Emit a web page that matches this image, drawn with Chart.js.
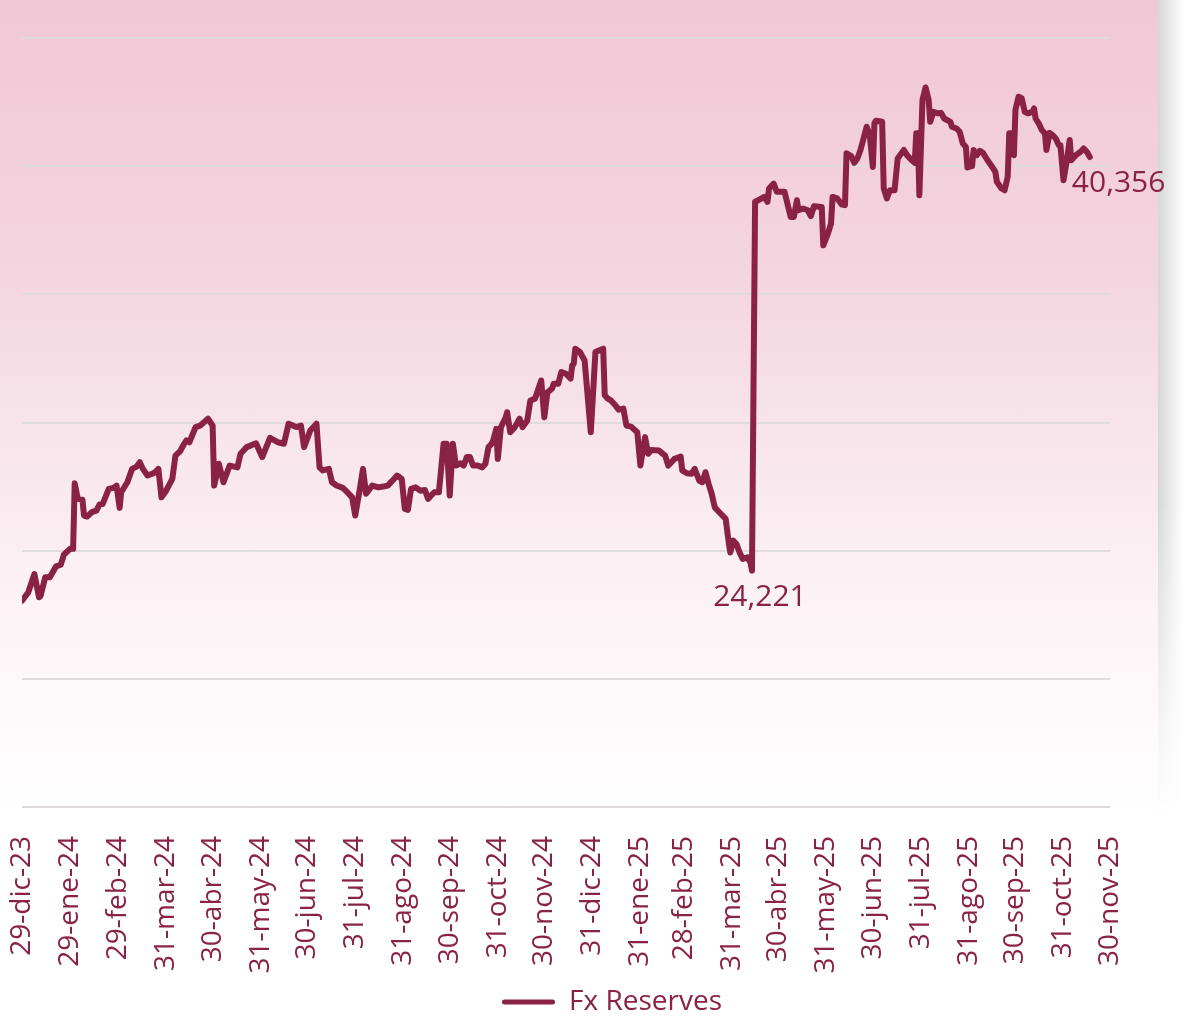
<!DOCTYPE html>
<html lang="es">
<head>
<meta charset="utf-8">
<title>Fx Reserves</title>
<script src="https://cdn.jsdelivr.net/npm/chart.js@4.4.1/dist/chart.umd.min.js"></script>
<style>
    html, body { margin: 0; padding: 0; background: #fff; }
    #fondo {
        position: absolute; left: 0; top: 0; width: 1158px; height: 820px;
        background: linear-gradient(to bottom, #f0c8d5 0%, #f4d6e0 35%, #f8e6ec 55%, #fcf4f7 75%, #ffffff 100%);
    }
    #sombra {
        position: absolute; left: 1158px; top: 0; width: 26px; height: 820px;
        background: linear-gradient(to right, rgba(0,0,0,0.16), rgba(0,0,0,0));
        -webkit-mask-image: linear-gradient(to bottom, #000 0%, #000 60%, transparent 100%);
    }
    #wrap { position: absolute; left: 0; top: 0; width: 1184px; height: 1016px; }
</style>
</head>
<body>
<div id="fondo"></div>
<div id="sombra"></div>
<div id="wrap"><canvas id="chart_reservas" width="1184" height="1016"></canvas></div>

<script>
const granate = '#8a2245';
const fuente = 'Open Sans';

// Eje X: dias contados desde el 29-dic-23
const inicio = Date.UTC(2023, 11, 29);
const cortes = ['2023-12-29', '2024-01-29', '2024-02-29', '2024-03-31', '2024-04-30', '2024-05-31',
    '2024-06-30', '2024-07-31', '2024-08-31', '2024-09-30', '2024-10-31', '2024-11-30',
    '2024-12-31', '2025-01-31', '2025-02-28', '2025-03-31', '2025-04-30', '2025-05-31',
    '2025-06-30', '2025-07-31', '2025-08-31', '2025-09-30', '2025-10-31', '2025-11-30'];
const etiquetas = ['29-dic-23', '29-ene-24', '29-feb-24', '31-mar-24', '30-abr-24', '31-may-24',
    '30-jun-24', '31-jul-24', '31-ago-24', '30-sep-24', '31-oct-24', '30-nov-24',
    '31-dic-24', '31-ene-25', '28-feb-25', '31-mar-25', '30-abr-25', '31-may-25',
    '30-jun-25', '31-jul-25', '31-ago-25', '30-sep-25', '31-oct-25', '30-nov-25'];
const tickDias = cortes.map(f => (Date.parse(f) - inicio) / 864e5);

// Reservas (millones USD)
const dias = [
    0, 4, 8, 11, 12, 15, 18, 22, 25, 27,
    31, 33, 34, 36, 39, 40, 42, 45, 48, 50,
    52, 56, 59, 61, 63, 64, 68, 71, 74, 76,
    78, 81, 84, 86, 88, 90, 93, 97, 99, 102,
    104, 106, 108, 112, 115, 120, 123, 124, 127, 130,
    134, 139, 141, 145, 151, 155, 160, 165, 169, 172,
    177, 180, 182, 186, 190, 192, 194, 198, 200, 203,
    207, 209, 213, 215, 218, 220, 222, 226, 230, 233,
    236, 239, 242, 245, 247, 249, 251, 254, 257, 260,
    262, 264, 266, 269, 272, 274, 276, 278, 280, 283,
    285, 287, 289, 291, 294, 297, 299, 301, 303, 304,
    306, 307, 309, 312, 313, 315, 318, 321, 323, 326,
    328, 331, 335, 337, 339, 342, 343, 346, 348, 351,
    354, 355, 356, 357, 360, 363, 367, 370, 375, 376,
    378, 380, 383, 385, 388, 390, 393, 397, 399, 402,
    404, 406, 411, 413, 415, 417, 419, 421, 425, 426,
    429, 432, 434, 437, 439, 441, 443, 445, 447, 449,
    451, 454, 456, 457, 459, 461, 463, 465, 468, 470,
    471, 473, 476, 479, 481, 482, 485, 487, 492, 496,
    498, 500, 501, 504, 507, 509, 511, 516, 517, 520,
    522, 523, 526, 529, 531, 532, 535, 537, 539, 541,
    543, 545, 547, 549, 550, 551, 555, 556, 558, 560,
    563, 565, 569, 571, 573, 576, 577, 578, 579, 581,
    583, 585, 586, 588, 591, 593, 595, 599, 600, 603,
    605, 607, 609, 610, 613, 614, 616, 618, 620, 623,
    626, 628, 629, 632, 634, 636, 637, 639, 640, 641,
    643, 645, 647, 649, 652, 653, 654, 656, 658, 660,
    661, 663, 665, 667, 669, 670, 672, 674, 676, 677,
    680, 683, 685, 687, 689
];
const reservas = [
    23050, 23370, 24090, 23180, 23240, 23960, 23960, 24390, 24450, 24840,
    25070, 25070, 27630, 27020, 26990, 26370, 26330, 26500, 26560, 26800,
    26820, 27410, 27450, 27540, 26670, 27280, 27670, 28190, 28280, 28450,
    28190, 27930, 28000, 28060, 28190, 27080, 27340, 27800, 28710, 28880,
    29100, 29300, 29230, 29820, 29880, 30150, 29880, 27540, 28390, 27670,
    28320, 28250, 28780, 29040, 29190, 28650, 29400, 29230, 29170, 29950,
    29820, 29880, 29040, 29690, 29950, 28250, 28130, 28190, 27670, 27540,
    27450, 27340, 27080, 26370, 27410, 28190, 27220, 27540, 27470, 27500,
    27540, 27730, 27930, 27800, 26630, 26590, 27410, 27470, 27340, 27370,
    27020, 27150, 27280, 27280, 29170, 29170, 27150, 29170, 28320, 28410,
    28320, 28650, 28650, 28320, 28320, 28250, 28390, 29040, 29170, 29300,
    29750, 28580, 29820, 30180, 30400, 29620, 29820, 30150, 29820, 30080,
    30860, 30930, 31640, 30200, 31180, 31320, 31510, 31510, 31970, 31900,
    31710, 32230, 32290, 32880, 32750, 32420, 29620, 32750, 32880, 31060,
    30930, 30860, 30660, 30500, 30540, 29880, 29840, 29620, 28320, 29430,
    28780, 28930, 28910, 28800, 28710, 28320, 28450, 28580, 28670, 28130,
    28020, 28000, 28190, 27730, 27670, 28060, 27610, 27220, 26690, 26560,
    26430, 26240, 25320, 24930, 25390, 25260, 24930, 24680, 24740, 24540,
    24221, 38610, 38700, 38800, 38610, 39130, 39320, 39000, 39000, 38020,
    38020, 38670, 38280, 38350, 38280, 38050, 38440, 38410, 36910, 37370,
    37760, 38800, 38740, 38500, 38480, 40500, 40390, 40130, 40300, 40630,
    41080, 41540, 41210, 39970, 41680, 41770, 41730, 39130, 38740, 39060,
    39060, 40300, 40630, 40430, 40300, 40130, 41280, 41280, 38870, 42580,
    43070, 42580, 41730, 42120, 42060, 42080, 41860, 41730, 41540, 41470,
    41340, 40890, 40750, 39950, 40000, 40630, 40430, 40600, 40520, 40230,
    39970, 39780, 39390, 39130, 39060, 39580, 41280, 41280, 40430, 42190,
    42710, 42650, 42120, 42060, 42120, 42250, 41860, 41670, 41410, 41280,
    40630, 41300, 41210, 41080, 40820, 40820, 39450, 40170, 41020, 40230,
    40430, 40560, 40690, 40560, 40356
];

const puntos = dias.map((d, i) => ({ x: d, y: reservas[i] }));
const fmt = v => v.toLocaleString('en-US');

// Rotulos: minimo de 2025 y ultimo dato
const rotulos = {
    id: 'rotulos',
    afterDatasetsDraw(chart) {
        const meta = chart.getDatasetMeta(0);
        const ctx = chart.ctx;
        const min2025 = Math.min(...reservas.filter((v, i) => dias[i] > 368));
        const iMin = reservas.indexOf(min2025);
        const iFin = reservas.length - 1;
        ctx.save();
        ctx.font = '30px "' + fuente + '"';
        ctx.fillStyle = granate;
        ctx.textBaseline = 'middle';
        let p = meta.data[iMin];
        ctx.textAlign = 'center';
        ctx.fillText(fmt(reservas[iMin]), p.x + 8, p.y + 27);
        p = meta.data[iFin];
        ctx.textAlign = 'left';
        ctx.fillText(fmt(reservas[iFin]), p.x - 18, p.y + 26);
        ctx.restore();
    }
};

// leyenda corrida a la derecha y abajo; el eje X no recorta las fechas
const ajustes = {
    id: 'ajustes',
    afterLayout(chart) {
        const lg = chart.legend;
        lg.left += 46;
        lg.right += 46;
        lg.top += 10;
        lg.bottom += 10;
        chart.scales.x.bottom = chart.height;
    }
};

const ctx = document.getElementById('chart_reservas');
const dChart = new Chart(ctx, {
    type: 'line',
    data: {
        datasets: [
            {
                label: 'Fx Reserves',
                data: puntos,
                borderColor: granate,
                backgroundColor: granate,
                borderWidth: 6,
                pointRadius: 0,
                tension: 0,
                borderJoinStyle: 'round',
                borderCapStyle: 'round',
                fill: false
            }
        ]
    },
    options: {
        responsive: false,
        animation: false,
        layout: { padding: { top: 38, left: 22, right: 74, bottom: 0 } },
        scales: {
            x: {
                type: 'linear',
                min: 0,
                max: 702,
                grid: { display: false },
                border: { display: false },
                afterBuildTicks: s => { s.ticks = tickDias.map(v => ({ value: v })); },
                afterFit: s => { s.height = 169; },
                ticks: {
                    autoSkip: false,
                    minRotation: 90,
                    maxRotation: 90,
                    padding: 21,
                    color: granate,
                    font: { family: fuente, size: 28 },
                    callback: (v, i) => etiquetas[i]
                }
            },
            y: {
                min: 15000,
                max: 45000,
                afterFit: s => { s.width = 0; },
                ticks: { display: false, stepSize: 5000 },
                grid: { color: '#dfdadc', lineWidth: 2, drawTicks: false },
                border: { display: false }
            }
        },
        plugins: {
            legend: {
                position: 'bottom',
                labels: {
                    color: granate,
                    font: { family: fuente, size: 28 },
                    boxWidth: 53,
                    boxHeight: 5,
                    padding: 2,
                    useBorderRadius: true,
                    borderRadius: 2.5,
                    generateLabels: chart => Chart.defaults.plugins.legend.labels.generateLabels(chart)
                        .map(l => Object.assign(l, { lineWidth: 0 }))
                }
            },
            tooltip: { enabled: false }
        }
    },
    plugins: [rotulos, ajustes]
});
</script>
</body>
</html>
